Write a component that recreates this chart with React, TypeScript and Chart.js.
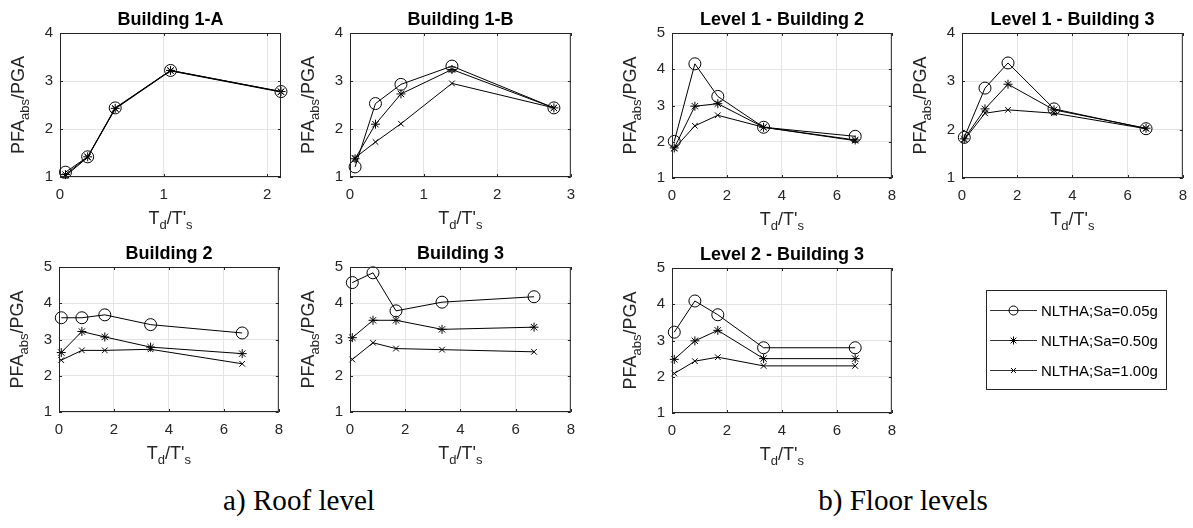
import React, { useEffect, useRef } from 'react';
import { Chart, registerables } from 'chart.js';

Chart.register(...registerables);

// ---------- data ----------
const SERIES_LABELS = ['NLTHA;Sa=0.05g', 'NLTHA;Sa=0.50g', 'NLTHA;Sa=1.00g'];

const Y_TICKS_4 = [1, 2, 3, 4];
const Y_TICKS_5 = [1, 2, 3, 4, 5];
const X_TICKS_B1A = [0, 1, 2];
const X_TICKS_B1B = [0, 1, 2, 3];
const X_TICKS_B23 = [0, 2, 4, 6, 8];

const B1A_X = [0.053, 0.267, 0.533, 1.067, 2.133];
const B1A_SA005 = [1.1, 1.42, 2.44, 3.22, 2.78];
const B1A_SA050 = [1.05, 1.42, 2.43, 3.22, 2.78];
const B1A_SA100 = [1.02, 1.41, 2.42, 3.21, 2.77];

const B1B_X = [0.069, 0.346, 0.692, 1.385, 2.77];
const B1B_SA005 = [1.21, 2.53, 2.93, 3.31, 2.44];
const B1B_SA050 = [1.38, 2.1, 2.73, 3.24, 2.44];
const B1B_SA100 = [1.4, 1.73, 2.11, 2.95, 2.44];

const B23_X = [0.083, 0.833, 1.667, 3.333, 6.667];

const L1B2_SA005 = [2.01, 4.15, 3.25, 2.4, 2.15];
const L1B2_SA050 = [1.83, 2.98, 3.05, 2.4, 2.05];
const L1B2_SA100 = [1.81, 2.44, 2.73, 2.4, 2.03];

const L1B3_SA005 = [1.84, 2.86, 3.38, 2.43, 2.02];
const L1B3_SA050 = [1.81, 2.43, 2.94, 2.41, 2.03];
const L1B3_SA100 = [1.79, 2.34, 2.41, 2.34, 2.02];

const B2_SA005 = [3.6, 3.6, 3.68, 3.41, 3.18];
const B2_SA050 = [2.64, 3.22, 3.07, 2.79, 2.61];
const B2_SA100 = [2.43, 2.7, 2.7, 2.73, 2.33];

const B3_SA005 = [4.57, 4.84, 3.79, 4.03, 4.18];
const B3_SA050 = [3.05, 3.53, 3.53, 3.28, 3.34];
const B3_SA100 = [2.45, 2.91, 2.75, 2.72, 2.66];

const L2B3_SA005 = [3.23, 4.09, 3.71, 2.8, 2.8];
const L2B3_SA050 = [2.48, 2.99, 3.28, 2.5, 2.5];
const L2B3_SA100 = [2.09, 2.43, 2.54, 2.3, 2.3];

// ---------- styles / layout ----------
const FONT = '"Liberation Sans", Arial, Helvetica, sans-serif';
const SERIF = '"Liberation Serif", "Times New Roman", serif';
const INK = '#262626';
const GRID = '#e4e4e4';
const MARKERS = ['circle', 'star', 'crossRot'];
const RADII = [6, 4.5, 4];

const PAD_L = 60;
const PAD_T = 33;
const PAD_R = 12;
const PAD_B = 62;

type PanelDef = {
  title: string;
  xs: number[];
  ys: number[][];
  xMax: number;
  xTicks: number[];
  yMax: number;
  yTicks: number[];
  box: { l: number; t: number; r: number; b: number };
};

const PANELS: PanelDef[] = [
  { title: 'Building 1-A', xs: B1A_X, ys: [B1A_SA005, B1A_SA050, B1A_SA100], xMax: 2.133, xTicks: X_TICKS_B1A, yMax: 4, yTicks: Y_TICKS_4, box: { l: 60, t: 33, r: 281, b: 177 } },
  { title: 'Building 1-B', xs: B1B_X, ys: [B1B_SA005, B1B_SA050, B1B_SA100], xMax: 3, xTicks: X_TICKS_B1B, yMax: 4, yTicks: Y_TICKS_4, box: { l: 350, t: 33, r: 572, b: 177 } },
  { title: 'Level 1 - Building 2', xs: B23_X, ys: [L1B2_SA005, L1B2_SA050, L1B2_SA100], xMax: 8, xTicks: X_TICKS_B23, yMax: 5, yTicks: Y_TICKS_5, box: { l: 672, t: 33, r: 893, b: 178 } },
  { title: 'Level 1 - Building 3', xs: B23_X, ys: [L1B3_SA005, L1B3_SA050, L1B3_SA100], xMax: 8, xTicks: X_TICKS_B23, yMax: 4, yTicks: Y_TICKS_4, box: { l: 962, t: 33, r: 1184, b: 178 } },
  { title: 'Building 2', xs: B23_X, ys: [B2_SA005, B2_SA050, B2_SA100], xMax: 8, xTicks: X_TICKS_B23, yMax: 5, yTicks: Y_TICKS_5, box: { l: 59, t: 267, r: 280, b: 412 } },
  { title: 'Building 3', xs: B23_X, ys: [B3_SA005, B3_SA050, B3_SA100], xMax: 8, xTicks: X_TICKS_B23, yMax: 5, yTicks: Y_TICKS_5, box: { l: 350, t: 267, r: 572, b: 412 } },
  { title: 'Level 2 - Building 3', xs: B23_X, ys: [L2B3_SA005, L2B3_SA050, L2B3_SA100], xMax: 8, xTicks: X_TICKS_B23, yMax: 5, yTicks: Y_TICKS_5, box: { l: 672, t: 268, r: 893, b: 413 } },
];

type Part = [string, boolean];
const X_LABEL: Part[] = [['T', false], ['d', true], ["/T'", false], ['s', true]];
const Y_LABEL: Part[] = [['PFA', false], ['abs', true], ['/PGA', false]];

function drawParts(ctx: CanvasRenderingContext2D, parts: Part[], cx: number, baseY: number, size: number) {
  const main = `${size}px ${FONT}`;
  const sub = `${Math.round(size * 0.72)}px ${FONT}`;
  let total = 0;
  const widths = parts.map(([t, s]) => {
    ctx.font = s ? sub : main;
    const w = ctx.measureText(t).width;
    total += w;
    return w;
  });
  let x = cx - total / 2;
  ctx.textAlign = 'left';
  ctx.textBaseline = 'alphabetic';
  parts.forEach(([t, s], i) => {
    ctx.font = s ? sub : main;
    ctx.fillText(t, x, baseY + (s ? 5 : 0));
    x += widths[i];
  });
}

function drawMarker(ctx: CanvasRenderingContext2D, style: string, x: number, y: number, r: number) {
  ctx.beginPath();
  if (style === 'circle') {
    ctx.arc(x, y, r, 0, Math.PI * 2);
  } else {
    const d = r * Math.SQRT1_2;
    if (style === 'star') {
      ctx.moveTo(x - r, y); ctx.lineTo(x + r, y);
      ctx.moveTo(x, y - r); ctx.lineTo(x, y + r);
    }
    ctx.moveTo(x - d, y - d); ctx.lineTo(x + d, y + d);
    ctx.moveTo(x - d, y + d); ctx.lineTo(x + d, y - d);
  }
  ctx.stroke();
}

function makeDecor(p: PanelDef) {
  return {
    id: 'decor',
    afterDraw(chart: any) {
      const { ctx, chartArea: a } = chart;
      const xs = chart.scales.x;
      const ys = chart.scales.y;
      ctx.save();
      ctx.strokeStyle = INK;
      ctx.lineWidth = 1;
      // inward tick marks
      ctx.beginPath();
      p.xTicks.forEach((v) => {
        const px = Math.round(xs.getPixelForValue(v)) + 0.5;
        ctx.moveTo(px, a.bottom); ctx.lineTo(px, a.bottom - 3);
        ctx.moveTo(px, a.top); ctx.lineTo(px, a.top + 3);
      });
      p.yTicks.forEach((v) => {
        const py = Math.round(ys.getPixelForValue(v)) + 0.5;
        ctx.moveTo(a.left, py); ctx.lineTo(a.left + 3, py);
        ctx.moveTo(a.right, py); ctx.lineTo(a.right - 3, py);
      });
      ctx.stroke();
      ctx.strokeRect(a.left + 0.5, a.top + 0.5, a.right - a.left - 1, a.bottom - a.top - 1);
      // title
      ctx.fillStyle = '#000';
      ctx.font = `bold 18px ${FONT}`;
      ctx.textAlign = 'center';
      ctx.textBaseline = 'alphabetic';
      ctx.fillText(p.title, (a.left + a.right) / 2, a.top - 8);
      // axis labels
      ctx.fillStyle = INK;
      drawParts(ctx, X_LABEL, (a.left + a.right) / 2, a.bottom + 47, 18);
      ctx.save();
      ctx.translate(a.left - 36, (a.top + a.bottom) / 2);
      ctx.rotate(-Math.PI / 2);
      drawParts(ctx, Y_LABEL, 0, 0, 18);
      ctx.restore();
      ctx.restore();
    },
  };
}

function Panel({ p }: { p: PanelDef }) {
  const ref = useRef<HTMLCanvasElement | null>(null);
  const w = p.box.r - p.box.l + PAD_L + PAD_R;
  const h = p.box.b - p.box.t + PAD_T + PAD_B;
  useEffect(() => {
    if (!ref.current) return;
    const datasets = p.ys.map((vals, i) => ({
      label: SERIES_LABELS[i],
      data: p.xs.map((x, j) => ({ x, y: vals[j] })),
      showLine: true,
      borderColor: '#000',
      borderWidth: 1,
      backgroundColor: 'rgba(0,0,0,0)',
      pointStyle: MARKERS[i],
      pointRadius: RADII[i],
      pointBorderColor: '#000',
      pointBorderWidth: 1,
      pointBackgroundColor: 'rgba(0,0,0,0)',
      pointHoverRadius: RADII[i],
      clip: false,
      tension: 0,
    }));
    const tickFont = { family: FONT, size: 15 };
    const chart = new Chart(ref.current, {
      type: 'scatter',
      data: { datasets },
      options: {
        animation: false,
        responsive: false,
        maintainAspectRatio: false,
        events: [],
        layout: { padding: { left: 0, top: PAD_T, right: PAD_R, bottom: 0 } },
        plugins: { legend: { display: false }, tooltip: { enabled: false }, title: { display: false } },
        scales: {
          x: {
            type: 'linear',
            min: 0,
            max: p.xMax,
            afterBuildTicks: (s: any) => { s.ticks = p.xTicks.map((v) => ({ value: v })); },
            afterFit: (s: any) => { s.height = PAD_B; },
            grid: { color: GRID, drawTicks: false, lineWidth: 1 },
            border: { display: false },
            ticks: { color: INK, font: tickFont, padding: 9, maxRotation: 0, autoSkip: false },
          },
          y: {
            type: 'linear',
            min: 1,
            max: p.yMax,
            afterBuildTicks: (s: any) => { s.ticks = p.yTicks.map((v) => ({ value: v })); },
            afterFit: (s: any) => { s.width = PAD_L; },
            grid: { color: GRID, drawTicks: false, lineWidth: 1 },
            border: { display: false },
            ticks: { color: INK, font: tickFont, padding: 7, autoSkip: false },
          },
        },
      } as any,
      plugins: [makeDecor(p)],
    });
    return () => chart.destroy();
  }, [p]);
  return (
    <canvas
      ref={ref}
      width={w}
      height={h}
      style={{ position: 'absolute', left: p.box.l - PAD_L, top: p.box.t - PAD_T, width: w, height: h }}
    />
  );
}

function Legend() {
  const ref = useRef<HTMLCanvasElement | null>(null);
  const W = 181;
  const H = 100;
  useEffect(() => {
    const c = ref.current;
    if (!c) return;
    const ctx = c.getContext('2d');
    if (!ctx) return;
    ctx.clearRect(0, 0, W, H);
    ctx.fillStyle = '#fff';
    ctx.fillRect(0, 0, W, H);
    ctx.strokeStyle = INK;
    ctx.lineWidth = 1;
    ctx.strokeRect(0.5, 0.5, W - 1, H - 1);
    SERIES_LABELS.forEach((lab, i) => {
      const y = 20.5 + i * 30;
      ctx.strokeStyle = '#333';
      ctx.beginPath();
      ctx.moveTo(4, y); ctx.lineTo(51, y);
      ctx.stroke();
      ctx.strokeStyle = '#000';
      drawMarker(ctx, MARKERS[i], 27.5, y, i === 0 ? 4.5 : RADII[i] - 0.5);
      ctx.fillStyle = '#000';
      ctx.font = `15px ${FONT}`;
      ctx.textAlign = 'left';
      ctx.textBaseline = 'middle';
      ctx.fillText(lab, 55, y + 1);
    });
  }, []);
  return (
    <canvas ref={ref} width={W} height={H} style={{ position: 'absolute', left: 986, top: 290, width: W, height: H }} />
  );
}

const CAPTIONS = [
  { text: 'a) Roof level', cx: 299 },
  { text: 'b) Floor levels', cx: 903 },
];

export default function App() {
  return (
    <div style={{ position: 'absolute', left: 0, top: 0, width: 1193, height: 528, overflow: 'hidden', background: '#fff' }}>
      {PANELS.map((p) => (
        <Panel key={p.title} p={p} />
      ))}
      <Legend />
      {CAPTIONS.map((c) => (
        <div
          key={c.text}
          style={{
            position: 'absolute',
            left: c.cx - 150,
            width: 300,
            top: 483,
            textAlign: 'center',
            fontFamily: SERIF,
            fontSize: 30,
            lineHeight: '34px',
            color: '#000',
            transform: 'scaleX(0.97)',
          }}
        >
          {c.text}
        </div>
      ))}
    </div>
  );
}
